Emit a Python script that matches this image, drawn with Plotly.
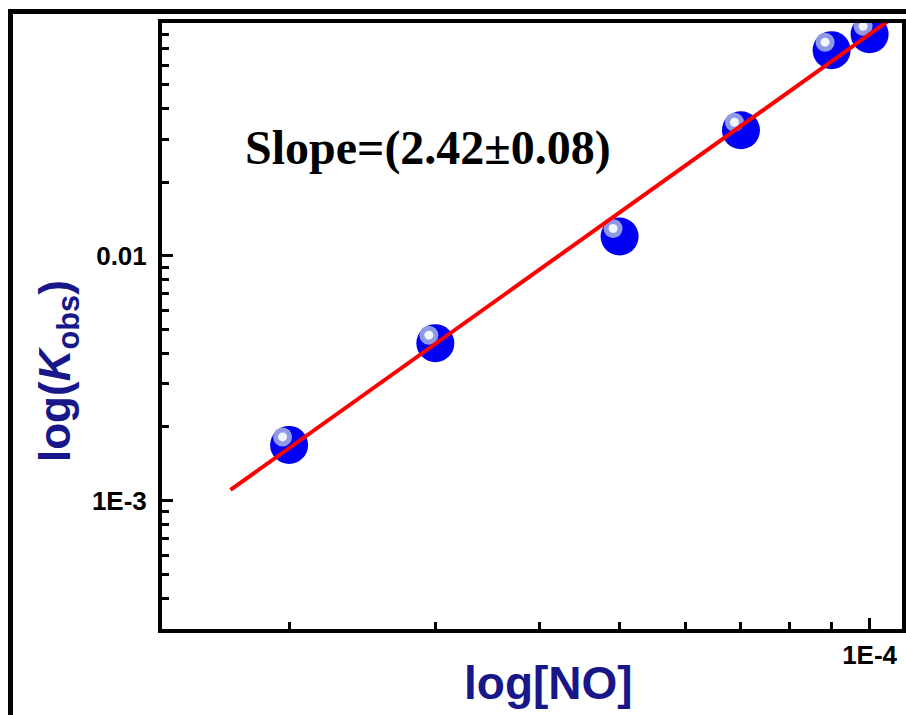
import plotly.graph_objects as go

# ---- data ----
no_conc = [2e-5, 3e-5, 5e-5, 7e-5, 9e-5, 1e-4]
k_obs = [1.69e-3, 4.40e-3, 0.0120, 0.0326, 0.0692, 0.0804]
fit_x = [1.7e-5, 1.1e-4]
fit_y = [1.107e-3, 0.1012]
x_tickvals = [1e-4]
x_ticktext = ["1E-4"]
x_minor = [2e-5, 3e-5, 4e-5, 5e-5, 6e-5, 7e-5, 8e-5, 9e-5]
y_tickvals = [1e-3, 1e-2]
y_ticktext = ["1E-3", "0.01"]
y_minor = [4e-4, 5e-4, 6e-4, 7e-4, 8e-4, 9e-4,
           2e-3, 3e-3, 4e-3, 5e-3, 6e-3, 7e-3, 8e-3, 9e-3,
           2e-2, 3e-2, 4e-2, 5e-2, 6e-2, 7e-2, 8e-2]
slope_text = "Slope=(2.42±0.08)"

W, H = 906, 715
L, R, T, B = 162, 902, 23, 629
pw, ph = R - L, B - T

def px(x):
    return (x - L) / pw

def py(y):
    return (B - y) / ph

# highlight offset (style: pixels converted to log-axis factors)
x_dec_px = 830.0
y_dec_px = 245.0
hx = 10 ** (-6.5 / x_dec_px)
hy = 10 ** (8.0 / y_dec_px)

fig = go.Figure()
fig.add_trace(go.Scatter(x=no_conc, y=k_obs, mode="markers",
                         marker=dict(size=38, color="#0000f5", line=dict(width=0)),
                         showlegend=False, hoverinfo="skip"))
fig.add_trace(go.Scatter(x=[v * hx for v in no_conc], y=[v * hy for v in k_obs], mode="markers",
                         marker=dict(size=19, color="#8e9ae8", line=dict(width=0)),
                         showlegend=False, hoverinfo="skip"))
fig.add_trace(go.Scatter(x=[v * hx for v in no_conc], y=[v * hy for v in k_obs], mode="markers",
                         marker=dict(size=9, color="#f2f6ff", line=dict(width=0)),
                         showlegend=False, hoverinfo="skip"))
fig.add_trace(go.Scatter(x=fit_x, y=fit_y, mode="lines",
                         line=dict(color="#ff0000", width=4),
                         showlegend=False, hoverinfo="skip"))

tickfont = dict(family="Liberation Sans, Arial", size=26, color="black")
axis_common = dict(type="log", showgrid=False, zeroline=False, showline=True,
                   linecolor="black", linewidth=4, mirror=True, automargin=False,
                   ticks="inside", ticklen=11, tickwidth=3, tickcolor="black",
                   tickfont=tickfont)

fig.update_xaxes(range=[-4.852, -3.961], tickmode="array", tickvals=x_tickvals,
                 ticktext=["<b>" + t + "</b>" for t in x_ticktext],
                 minor=dict(tickmode="array", tickvals=x_minor, ticks="inside",
                            ticklen=7, tickwidth=3, tickcolor="black", showgrid=False),
                 **axis_common)
fig.update_yaxes(range=[-3.524, -1.049], tickmode="array", tickvals=y_tickvals,
                 ticktext=["<b>" + t + "</b>" for t in y_ticktext], ticklabelstandoff=6,
                 minor=dict(tickmode="array", tickvals=y_minor, ticks="inside",
                            ticklen=7, tickwidth=3, tickcolor="black", showgrid=False),
                 **axis_common)

title_color = "#17178a"
fig.add_annotation(xref="paper", yref="paper", x=px(548), y=py(683),
                   text="<b>log[NO]</b>", showarrow=False,
                   xanchor="center", yanchor="middle",
                   font=dict(family="Liberation Sans, Arial", size=46, color=title_color))
fig.add_annotation(xref="paper", yref="paper", x=px(58), y=py(371),
                   text="<b>log(<i>K</i><sub>obs</sub>)</b>", showarrow=False,
                   textangle=-90, xanchor="center", yanchor="middle",
                   font=dict(family="Liberation Sans, Arial", size=44, color=title_color))
fig.add_annotation(xref="paper", yref="paper", x=px(428), y=py(148),
                   text="<b>" + slope_text + "</b>", showarrow=False,
                   xanchor="center", yanchor="middle",
                   font=dict(family="Liberation Serif, Times New Roman", size=48, color="black"))

# outer frame (top and left edges)
fig.add_shape(type="line", xref="paper", yref="paper",
              x0=px(10.5), y0=py(720), x1=px(10.5), y1=py(11.5),
              line=dict(color="black", width=5))
fig.add_shape(type="line", xref="paper", yref="paper",
              x0=px(8), y0=py(11.5), x1=px(912), y1=py(11.5),
              line=dict(color="black", width=5))

fig.update_layout(width=W, height=H, paper_bgcolor="white", plot_bgcolor="white",
                  margin=dict(l=L, r=W - R, t=T, b=H - B), showlegend=False)

fig.write_html("out.html", config={"displayModeBar": False},
               post_script="document.body.style.margin='0';document.body.style.overflow='hidden';")
